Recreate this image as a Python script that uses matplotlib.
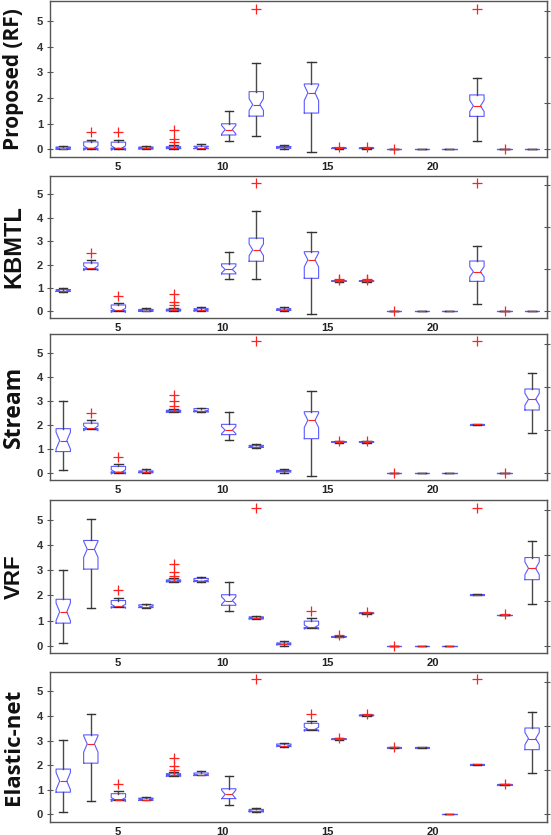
import matplotlib
matplotlib.use("Agg")
import matplotlib.pyplot as plt

# ---------------- data ----------------
TICK_LABELS = ["5", "10", "15", "20"]
TICK_POS = [2.96, 6.78, 10.59, 14.41]      # where the labels sit on the 18-box axis
N_BOX = 18

PANEL_LABELS = ["Proposed (RF)", "KBMTL", "Stream", "VRF", "Elastic-net"]

# Proposed (RF)
RF_Q1 = [0.00, 0.03, 0.03, 0.01, 0.03, 0.02, 0.55, 1.29, 0.04, 1.41, 0.02, 0.02, 0.0, 0.0, 0.0, 1.28, 0.0, 0.0]
RF_MED = [0.02, 0.04, 0.04, 0.03, 0.04, 0.05, 0.76, 1.74, 0.07, 2.20, 0.03, 0.03, 0.0, 0.0, 0.0, 1.69, 0.0, 0.0]
RF_Q3 = [0.08, 0.28, 0.27, 0.08, 0.09, 0.11, 0.99, 2.25, 0.10, 2.55, 0.04, 0.04, 0.0, 0.0, 0.0, 2.12, 0.0, 0.0]
RF_LO = [0.00, 0.00, 0.00, 0.00, 0.00, 0.00, 0.32, 0.50, 0.00, -0.13, 0.02, 0.02, 0.0, 0.0, 0.0, 0.31, 0.0, 0.0]
RF_HI = [0.13, 0.37, 0.37, 0.13, 0.14, 0.18, 1.49, 3.39, 0.17, 3.41, 0.05, 0.05, 0.0, 0.0, 0.0, 2.78, 0.0, 0.0]
RF_NOTCH = [0.03, 0.09, 0.09, 0.03, 0.03, 0.04, 0.17, 0.23, 0.03, 0.30, 0.01, 0.01, 0.0, 0.0, 0.0, 0.22, 0.0, 0.0]
RF_OUT = [[], [0.67], [0.67], [], [0.28, 0.40, 0.73], [], [], [5.5], [], [],
          [0.07], [0.07], [0.0], [], [], [5.5], [0.0], []]

# KBMTL
KB_Q1 = [0.85, 1.81, 0.03, 0.01, 0.03, 0.02, 1.60, 2.14, 0.04, 1.41, 1.28, 1.28, 0.0, 0.0, 0.0, 1.28, 0.0, 0.0]
KB_MED = [0.88, 1.84, 0.04, 0.03, 0.04, 0.05, 1.79, 2.63, 0.07, 2.20, 1.29, 1.29, 0.0, 0.0, 0.0, 1.69, 0.0, 0.0]
KB_Q3 = [0.93, 2.07, 0.27, 0.08, 0.09, 0.11, 2.03, 3.13, 0.10, 2.55, 1.31, 1.31, 0.0, 0.0, 0.0, 2.15, 0.0, 0.0]
KB_LO = [0.82, 1.81, 0.00, 0.00, 0.00, 0.00, 1.36, 1.36, 0.00, -0.13, 1.27, 1.27, 0.0, 0.0, 0.0, 0.31, 0.0, 0.0]
KB_HI = [0.98, 2.20, 0.37, 0.14, 0.14, 0.18, 2.53, 4.27, 0.17, 3.41, 1.32, 1.32, 0.0, 0.0, 0.0, 2.78, 0.0, 0.0]
KB_NOTCH = [0.03, 0.10, 0.09, 0.03, 0.03, 0.04, 0.15, 0.25, 0.03, 0.30, 0.01, 0.01, 0.0, 0.0, 0.0, 0.22, 0.0, 0.0]
KB_OUT = [[], [2.5], [0.67], [], [0.28, 0.40, 0.73], [], [], [5.5], [], [],
          [1.35, 1.38], [1.35, 1.38], [0.0], [], [], [5.5], [0.0], []]

# Stream
ST_Q1 = [0.89, 1.85, 0.03, 0.01, 2.55, 2.57, 1.60, 1.07, 0.04, 1.43, 1.28, 1.28, 0.0, 0.0, 0.0, 2.02, 0.0, 2.63]
ST_MED = [1.35, 1.86, 0.04, 0.03, 2.57, 2.58, 1.79, 1.10, 0.07, 2.20, 1.29, 1.29, 0.0, 0.0, 0.0, 2.03, 0.0, 3.08]
ST_Q3 = [1.85, 2.08, 0.27, 0.08, 2.62, 2.69, 2.03, 1.15, 0.10, 2.56, 1.31, 1.31, 0.0, 0.0, 0.0, 2.04, 0.0, 3.51]
ST_LO = [0.10, 1.83, 0.00, 0.00, 2.55, 2.55, 1.36, 1.05, 0.00, -0.12, 1.27, 1.27, 0.0, 0.0, 0.0, 2.02, 0.0, 1.67]
ST_HI = [3.00, 2.20, 0.37, 0.14, 2.68, 2.72, 2.53, 1.20, 0.17, 3.41, 1.32, 1.32, 0.0, 0.0, 0.0, 2.04, 0.0, 4.18]
ST_NOTCH = [0.35, 0.10, 0.09, 0.03, 0.03, 0.04, 0.15, 0.03, 0.03, 0.30, 0.01, 0.01, 0.0, 0.0, 0.0, 0.0, 0.0, 0.25]
ST_OUT = [[], [2.5], [0.67], [], [2.81, 3.0, 3.27], [], [], [5.5], [], [],
          [1.35], [1.35], [0.0], [], [], [5.5], [0.0], []]

# VRF
VR_Q1 = [0.90, 3.05, 1.54, 1.52, 2.55, 2.57, 1.61, 1.07, 0.04, 0.72, 0.34, 1.28, 0.0, 0.0, 0.0, 2.02, 1.21, 2.63]
VR_MED = [1.35, 3.84, 1.57, 1.55, 2.57, 2.58, 1.80, 1.10, 0.07, 0.74, 0.36, 1.29, 0.0, 0.0, 0.0, 2.03, 1.22, 3.08]
VR_Q3 = [1.85, 4.19, 1.80, 1.63, 2.62, 2.68, 2.03, 1.15, 0.11, 0.98, 0.37, 1.31, 0.0, 0.0, 0.0, 2.04, 1.23, 3.51]
VR_LO = [0.10, 1.50, 1.54, 1.52, 2.55, 2.55, 1.37, 1.05, 0.00, 0.72, 0.33, 1.27, 0.0, 0.0, 0.0, 2.02, 1.21, 1.68]
VR_HI = [3.00, 5.05, 1.91, 1.67, 2.68, 2.72, 2.53, 1.20, 0.18, 1.09, 0.38, 1.32, 0.0, 0.0, 0.0, 2.04, 1.23, 4.16]
VR_NOTCH = [0.35, 0.32, 0.08, 0.03, 0.03, 0.04, 0.15, 0.03, 0.03, 0.08, 0.01, 0.01, 0.0, 0.0, 0.0, 0.0, 0.0, 0.25]
VR_OUT = [[], [], [2.2], [], [2.78, 2.92, 3.25], [], [], [5.5], [], [1.38],
          [0.42], [1.35], [0.0], [], [], [5.5], [1.25], []]

# Elastic-net
EN_Q1 = [0.90, 2.08, 0.60, 0.57, 1.55, 1.58, 0.64, 0.12, 2.76, 3.43, 3.04, 4.01, 2.71, 2.71, 0.0, 2.02, 1.21, 2.63]
EN_MED = [1.35, 2.86, 0.60, 0.60, 1.60, 1.60, 0.81, 0.12, 2.78, 3.46, 3.06, 4.02, 2.72, 2.72, 0.0, 2.03, 1.22, 3.08]
EN_Q3 = [1.84, 3.23, 0.84, 0.66, 1.65, 1.68, 1.04, 0.20, 2.86, 3.70, 3.08, 4.04, 2.73, 2.73, 0.0, 2.04, 1.23, 3.51]
EN_LO = [0.09, 0.54, 0.60, 0.57, 1.55, 1.58, 0.39, 0.10, 2.75, 3.43, 3.03, 4.00, 2.71, 2.71, 0.0, 2.02, 1.21, 1.68]
EN_HI = [3.01, 4.09, 0.95, 0.70, 1.72, 1.75, 1.55, 0.24, 2.90, 3.80, 3.09, 4.05, 2.73, 2.73, 0.0, 2.04, 1.23, 4.16]
EN_NOTCH = [0.35, 0.33, 0.08, 0.03, 0.03, 0.03, 0.18, 0.03, 0.03, 0.08, 0.01, 0.01, 0.0, 0.0, 0.0, 0.0, 0.0, 0.25]
EN_OUT = [[], [], [1.25], [], [1.8, 1.95, 2.3], [], [], [5.5], [], [4.1],
          [3.12], [4.08], [2.75], [], [], [5.5], [1.25], []]

PANELS = [
    (RF_Q1, RF_MED, RF_Q3, RF_LO, RF_HI, RF_NOTCH, RF_OUT),
    (KB_Q1, KB_MED, KB_Q3, KB_LO, KB_HI, KB_NOTCH, KB_OUT),
    (ST_Q1, ST_MED, ST_Q3, ST_LO, ST_HI, ST_NOTCH, ST_OUT),
    (VR_Q1, VR_MED, VR_Q3, VR_LO, VR_HI, VR_NOTCH, VR_OUT),
    (EN_Q1, EN_MED, EN_Q3, EN_LO, EN_HI, EN_NOTCH, EN_OUT),
]
RIGHT_TICKS = [0, 1.8, 3.6, 5.4]
Y_TICKS = [0, 1, 2, 3, 4, 5]

# ---------------- layout ----------------
W, H = 551, 835
fig = plt.figure(figsize=(W / 100, H / 100), dpi=100)

# (top_px, bottom_px) for each panel
PANEL_PX = [(1, 156.7), (175.7, 318.3), (334.3, 480), (500, 653.3), (671.7, 821.7)]
LEFT_PX, RIGHT_PX = 50, 546.7

FRAME = "#555555"
TICKFONT = dict(family=["Liberation Sans", "DejaVu Sans"], weight="bold", size=8)
LABEL_FAMILIES = [["Open Sans", "DejaVu Sans"], ["Liberation Sans", "DejaVu Sans"],
                  ["Open Sans", "DejaVu Sans"], ["Liberation Sans", "DejaVu Sans"],
                  ["Open Sans", "DejaVu Sans"]]
LABEL_SIZES = [15, 17, 16.5, 16, 16]

for i, (q1s, meds, q3s, los, his, notches, outs) in enumerate(PANELS):
    top, bot = PANEL_PX[i]
    ax = fig.add_axes([LEFT_PX / W, 1 - bot / H, (RIGHT_PX - LEFT_PX) / W, (bot - top) / H])
    stats = []
    for q1, med, q3, lo, hi, n, out in zip(q1s, meds, q3s, los, his, notches, outs):
        stats.append(dict(med=med, q1=q1, q3=q3, whislo=lo, whishi=hi,
                          cilo=med - n, cihi=med + n, fliers=out))
    ax.bxp(stats, positions=list(range(1, N_BOX + 1)), widths=0.52, shownotches=True,
           showfliers=True, capwidths=0.3,
           boxprops=dict(color="#5a5aff", lw=0.8),
           medianprops=dict(color="#ff2020", lw=0.8),
           whiskerprops=dict(color="#4a4a4a", lw=1.0),
           capprops=dict(color="#333333", lw=1.0),
           flierprops=dict(marker="+", markeredgecolor="#ff2020", markersize=7,
                           markeredgewidth=0.9, linestyle="none"))
    ax.set_xlim(0.52, 18.53)
    ax.set_ylim(-0.3, 5.8)
    ax.set_xticks(TICK_POS)
    ax.set_xticklabels(TICK_LABELS, **TICKFONT, color="#222222")
    ax.set_yticks(Y_TICKS)
    ax.set_yticklabels([str(v) for v in Y_TICKS], **TICKFONT, color="#333333")
    ax.tick_params(axis="x", length=0, pad=3.5)
    ax.tick_params(axis="y", direction="inout", length=4, width=0.8, color=FRAME, pad=3)
    for s in ax.spines.values():
        s.set_color(FRAME)
        s.set_linewidth(1.0)
    sec = ax.secondary_yaxis("right")
    sec.set_yticks(RIGHT_TICKS)
    sec.set_yticklabels([])
    sec.tick_params(direction="inout", length=4, width=0.8, color=FRAME)
    sec.spines["right"].set_color(FRAME)

    fig.text(14 / W, 1 - (top + bot) / 2 / H, PANEL_LABELS[i], rotation=90,
             ha="center", va="center", fontsize=LABEL_SIZES[i], fontweight="bold",
             family=LABEL_FAMILIES[i], color="#111111")

fig.savefig("out.png", dpi=100)
